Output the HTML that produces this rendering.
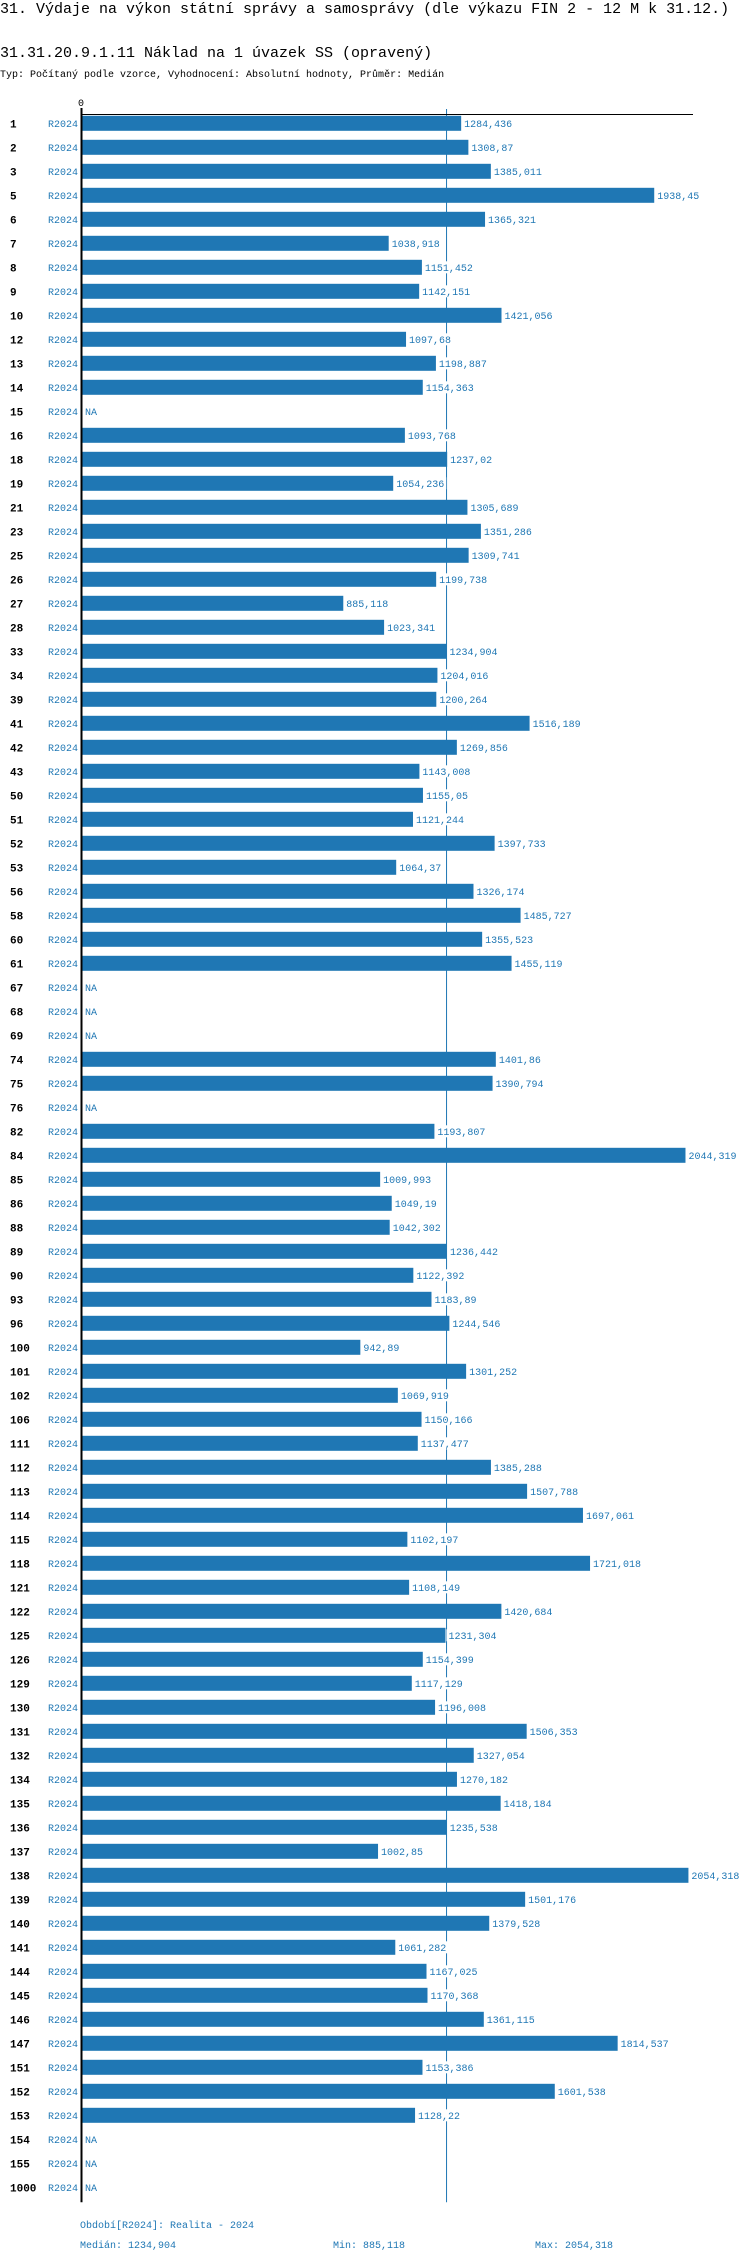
<!DOCTYPE html>
<html><head><meta charset="utf-8">
<style>
body{margin:0;background:#fff;width:750px;height:2262px;overflow:hidden;font-family:"Liberation Mono",monospace}
svg text{font-family:"Liberation Mono",monospace}
</style></head>
<body>
<svg id="chart" width="750" height="2262" xmlns="http://www.w3.org/2000/svg">
<text x="0" y="13" font-size="15" fill="#000">31. Výdaje na výkon státní správy a samosprávy (dle výkazu FIN 2 - 12 M k 31.12.)</text>
<text x="0" y="57" font-size="15" fill="#000">31.31.20.9.1.11 Náklad na 1 úvazek SS (opravený)</text>
<text x="0" y="77" font-size="10" fill="#000">Typ: Počítaný podle vzorce, Vyhodnocení: Absolutní hodnoty, Průměr: Medián</text>
<g id="plot"></g>
<text x="80" y="2228" font-size="10" fill="#1f77b4">Období[R2024]: Realita - 2024</text>
<text x="80" y="2248" font-size="10" fill="#1f77b4">Medián: 1234,904</text>
<text x="333" y="2248" font-size="10" fill="#1f77b4">Min: 885,118</text>
<text x="535" y="2248" font-size="10" fill="#1f77b4">Max: 2054,318</text>
</svg>
<script>
const categories=["1","2","3","5","6","7","8","9","10","12","13","14","15","16","18","19","21","23","25","26","27","28","33","34","39","41","42","43","50","51","52","53","56","58","60","61","67","68","69","74","75","76","82","84","85","86","88","89","90","93","96","100","101","102","106","111","112","113","114","115","118","121","122","125","126","129","130","131","132","134","135","136","137","138","139","140","141","144","145","146","147","151","152","153","154","155","1000"];
const values=[1284.436,1308.87,1385.011,1938.45,1365.321,1038.918,1151.452,1142.151,1421.056,1097.68,1198.887,1154.363,null,1093.768,1237.02,1054.236,1305.689,1351.286,1309.741,1199.738,885.118,1023.341,1234.904,1204.016,1200.264,1516.189,1269.856,1143.008,1155.05,1121.244,1397.733,1064.37,1326.174,1485.727,1355.523,1455.119,null,null,null,1401.86,1390.794,null,1193.807,2044.319,1009.993,1049.19,1042.302,1236.442,1122.392,1183.89,1244.546,942.89,1301.252,1069.919,1150.166,1137.477,1385.288,1507.788,1697.061,1102.197,1721.018,1108.149,1420.684,1231.304,1154.399,1117.129,1196.008,1506.353,1327.054,1270.182,1418.184,1235.538,1002.85,2054.318,1501.176,1379.528,1061.282,1167.025,1170.368,1361.115,1814.537,1153.386,1601.538,1128.22,null,null,null];
const median=1234.904;
const periodLabel="R2024";
const NS="http://www.w3.org/2000/svg";
const g=document.getElementById('plot');
const x0=82,k=0.2952,y0=123.3,pitch=24;
const xs=v=>x0+v*k, ys=i=>y0+i*pitch;
function mk(t,a){const e=document.createElementNS(NS,t);for(const n in a)e.setAttribute(n,a[n]);g.appendChild(e);return e;}
const yEnd=ys(categories.length-1)+15;
const ml=mk('line',{x1:xs(median),x2:xs(median),y1:109,y2:yEnd,stroke:'#1f77b4','stroke-width':1});


categories.forEach((c,i)=>{
  const y=ys(i),v=values[i];
  const t=mk('text',{x:10,y:y+4,'font-size':11,'font-weight':'bold',fill:'#000'});t.textContent=c;
  
  
  const p=mk('text',{x:78,y:y+3.5,'font-size':10,fill:'#1f77b4','text-anchor':'end'});p.textContent=periodLabel;
  
  
  if(v==null){
    const n=mk('text',{x:85,y:y+3.5,'font-size':10,fill:'#1f77b4'});n.textContent='NA';
    
    
    return;
  }
  const b=mk('rect',{x:x0,y:y-7.5,width:xs(v)-x0,height:15,fill:'#1f77b4'});
  
  
  const s=String(v).replace('.',',');
  const bg=mk('rect',{x:xs(v)+1,y:y-6,width:s.length*6+4,height:12,fill:'#fff'});
  
  
  const l=mk('text',{x:xs(v)+3,y:y+3.5,'font-size':10,fill:'#1f77b4'});l.textContent=s;
  
  
});
const ta=mk('line',{x1:81,x2:693,y1:114.5,y2:114.5,stroke:'#000','stroke-width':1});


const va=mk('line',{x1:81.5,x2:81.5,y1:108,y2:yEnd,stroke:'#000','stroke-width':2});


const z=mk('text',{x:81,y:106,'font-size':10,fill:'#000','text-anchor':'middle'});z.textContent='0';


</script>
</body></html>
